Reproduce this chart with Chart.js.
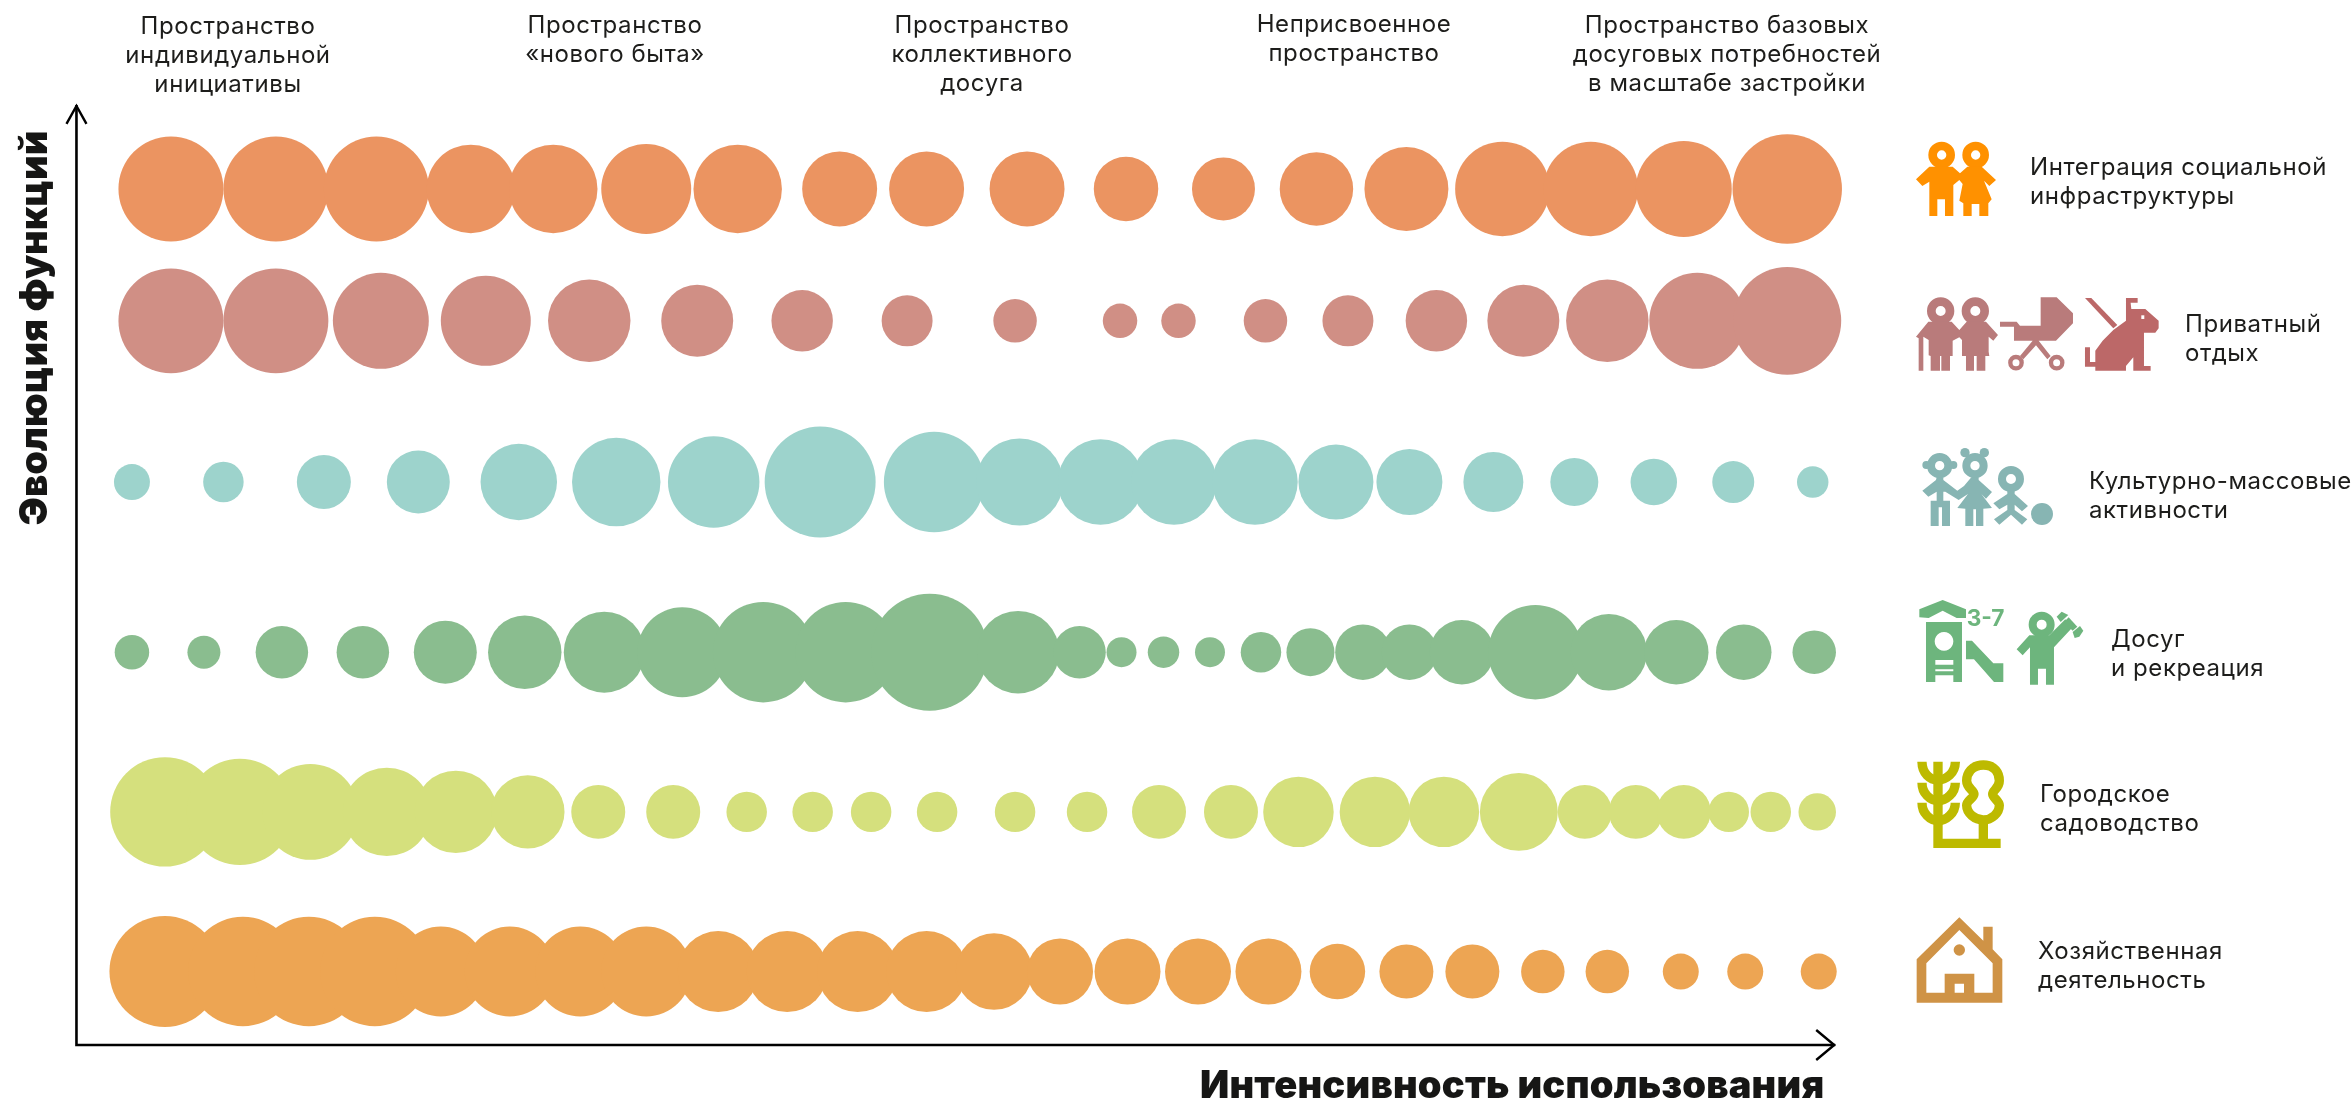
<!DOCTYPE html>
<html lang="ru">
<head>
<meta charset="utf-8">
<title>Эволюция функций</title>
<script src="https://cdn.jsdelivr.net/npm/chart.js@4"></script>
<style>
html,body{margin:0;padding:0;background:#fff;}
#wrap{position:relative;width:2351px;height:1099px;overflow:hidden;font-family:Inter,"Noto Sans",sans-serif;color:#1d1d1b;}
#chart{position:absolute;left:0;top:0;}
#icons{position:absolute;left:0;top:0;}
.t{position:absolute;white-space:nowrap;font-size:24px;letter-spacing:0.57px;line-height:29px;}
.c{text-align:center;transform:translateX(-50%);}
.ax{font-weight:900;font-size:38px;letter-spacing:0;line-height:40px;color:#161615;}
</style>
</head>
<body>
<div id="wrap">
<canvas id="chart" width="2351" height="1099"></canvas>
<svg id="icons" width="2351" height="1099" viewBox="0 0 2351 1099">
<!-- orange kids -->
<g transform="translate(1880,110) scale(0.3333)" fill="#ff9100">
<circle cx="185" cy="135" r="27" fill="none" stroke="#ff9100" stroke-width="26"/>
<circle cx="287" cy="135" r="27" fill="none" stroke="#ff9100" stroke-width="26"/>
<polygon points="108,208 148,170 218,170 240,190 262,170 305,170 348,210 328,228 312,212 335,268 325,280 325,318 298,318 298,282 275,282 275,318 250,318 250,280 238,272 248,222 238,210 220,225 220,318 195,318 195,268 172,268 172,318 148,318 148,215 127,228"/>
</g>
<!-- old couple, pram, dog -->
<g transform="translate(1880,110) scale(0.3333)" fill="#b97b7b">
<circle cx="182" cy="603" r="28" fill="none" stroke="#b97b7b" stroke-width="26"/>
<circle cx="286" cy="603" r="28" fill="none" stroke="#b97b7b" stroke-width="26"/>
<polygon points="108,680 145,635 215,635 238,660 260,635 318,635 354,675 340,692 326,680 326,725 328,738 316,738 316,782 290,782 290,738 282,738 282,782 258,782 258,738 246,738 246,690 238,682 218,692 218,738 210,738 210,782 184,782 184,738 180,738 180,782 152,782 152,738 146,736 146,690 130,680 130,782 116,782 116,685"/>
<polygon points="482,562 530,562 579,610 579,640 528,692 476,692 512,738 502,748 468,706 430,748 420,738 458,692 402,692 402,650 385,650 360,650 360,635 410,635 420,647 482,647"/>
<circle cx="408" cy="758" r="17" fill="none" stroke="#b97b7b" stroke-width="13"/>
<circle cx="530" cy="758" r="17" fill="none" stroke="#b97b7b" stroke-width="13"/>
</g>
<g transform="translate(1880,110) scale(0.3333)" fill="#bc6868">
<polygon points="615,564 634,564 712,645 700,655"/>
<polygon points="738,564 773,564 773,578 752,578 754,597 796,597 836,632 836,655 826,668 792,668 792,768 812,768 812,782 760,782 760,742 738,768 738,782 646,782 646,770 615,770 615,712 630,712 630,756 646,756 646,722 668,692 700,660 738,632"/>
<rect x="784" y="616" width="9" height="11" fill="#fff"/>
</g>
<!-- teal kids and ball -->
<g transform="translate(1880,420) scale(0.3333)" fill="#87b5b3">
<circle cx="179" cy="137" r="26" fill="none" stroke="#87b5b3" stroke-width="24"/>
<circle cx="139" cy="135" r="12"/><circle cx="220" cy="135" r="12"/>
<circle cx="285" cy="137" r="26" fill="none" stroke="#87b5b3" stroke-width="24"/>
<circle cx="255" cy="98" r="14"/><circle cx="313" cy="98" r="14"/>
<polygon points="170,172 190,172 190,180 232,212 252,198 274,172 296,172 296,180 336,216 318,236 304,222 336,264 310,266 310,318 288,318 288,268 280,268 280,318 256,318 256,266 232,264 264,222 236,240 196,215 190,215 190,242 210,242 210,318 186,318 186,262 176,262 176,318 152,318 152,242 170,242 170,215 145,230 127,212 168,180"/>
<circle cx="393" cy="177" r="27" fill="none" stroke="#87b5b3" stroke-width="24"/>
<polygon points="382,212 404,212 404,222 444,258 426,274 404,254 404,270 442,298 426,314 393,284 358,314 342,298 382,270 382,254 358,268 340,250 382,222"/>
<circle cx="486" cy="282" r="33"/>
</g>
<!-- playground and kid with hammer -->
<g transform="translate(1880,420) scale(0.3333)" fill="#6db57d">
<polygon points="118,592 118,568 150,555 188,540 228,556 258,568 258,594 230,594 188,572 146,594"/>
<path fill-rule="evenodd" d="M138,606 H246 V786 H220 V766 H166 V786 H138 Z M192,636 a28,28 0 1,0 0.1,0 Z M166,720 V734 H220 V720 Z M166,748 V754 H220 V748 Z"/>
<polygon points="258,662 276,662 340,730 370,730 370,786 342,786 282,718 258,718"/>
<text x="260" y="617" font-family="Inter" font-weight="700" font-size="68" fill="#6db57d">3-7</text>
<circle cx="485" cy="614" r="27" fill="none" stroke="#6db57d" stroke-width="24"/>
<polygon points="448,646 508,646 556,598 578,622 522,682 522,794 498,794 498,746 474,746 474,794 450,794 450,682 428,706 410,688"/>
<polygon points="530,590 545,575 565,585 542,606"/>
<polygon points="552,606 566,592 592,620 578,632"/>
<polygon points="578,636 600,618 610,632 598,650 584,654"/>
</g>
<!-- wheat and tree -->
<g transform="translate(1880,730) scale(0.3333)" fill="none" stroke="#bdba00" stroke-width="28">
<path d="M174,95 V340 H362"/>
<path d="M126,95 C126,130 150,150 174,150 C198,150 226,130 226,95"/>
<path d="M126,158 C126,190 150,212 174,212 C198,212 226,190 226,158"/>
<path d="M126,218 C126,250 150,272 174,272 C198,272 226,250 226,218"/>
<path d="M310,105 C345,105 358,130 358,152 C358,175 338,180 338,192 C338,204 358,212 358,226 C358,250 335,270 310,270 C285,270 260,250 260,226 C260,212 282,204 282,192 C282,180 260,175 260,152 C260,130 275,105 310,105 Z"/>
<path d="M310,270 V340"/>
</g>
<!-- house -->
<g transform="translate(1880,730) scale(0.3333)" fill="#cf9346">
<path fill-rule="evenodd" d="M238,562 L310,632 V590 H338 V658 L367,688 V818 H110 V688 Z M238,600 L139,700 V788 H194 V731 H283 V788 H338 V700 Z M224,761 V788 H252 V761 Z"/>
<circle cx="238" cy="660" r="17"/>
</g>
</svg>
</div>
<script>
// rows of the chart, top to bottom
const rowNames = ["Интеграция социальной инфраструктуры","Приватный отдых","Культурно-массовые активности","Досуг и рекреация","Городское садоводство","Хозяйственная деятельность"];
const rowLevels = [607,519,411.5,298,191.5,85];
const rowColors = ["#eb9461","#d08f85","#9dd3cc","#8abd8f","#d5e07d","#eda553"];

// intensity along the horizontal axis
const xs1 = [114,184,251,314,369,431,492,560,618,685,751,816,878,938,1002,1061,1123,1192];
const xs2 = [114,184,254,324,393,465,535,605,677,747,786,844,899,958,1016,1072,1132,1192];
const xs3 = [88,149,216,279,346,411,476,547,623,680,734,783,837,891,940,996,1050,1103,1156,1209];
const xs4 = [88,136,188,242,297,350,403,455,509,564,620,679,720,748,776,807,841,874,909,940,975,1024,1073,1118,1163,1210];
const xs5 = [110,160,207,258,304,352,399,449,498,542,581,625,677,725,773,821,866,917,963,1013,1057,1091,1123,1153,1181,1212];
const xs6 = [110,162,206,250,294,340,387,431,479,525,572,618,663,707,752,799,846,892,938,982,1029,1072,1121,1164,1213];

// bubble diameters
const sizes1 = [70,70,70,59,59,60,59,50,50,50,43,42,49,56,63,63,64,73];
const sizes2 = [70,70,64,60,55,48,41,34,29,23,23,29,34,41,48,55,64,72];
const sizes3 = [24,27,36,42,51,59,61,74,67,58,57,57,57,50,44,40,32,31,28,21];
const sizes4 = [23,22,35,35,42,49,54,60,67,67,78,55,35,20,21,20,27,32,37,37,43,63,51,43,37,29];
const sizes5 = [73,71,64,59,55,49,36,36,27,27,27,27,27,27,36,36,47,47,47,52,36,36,36,27,27,25];
const sizes6 = [74,73,73,73,60,60,60,60,54,54,54,54,51,44,44,44,44,37,36,36,29,29,24,24,24];

const topLabels = [
["Пространство","индивидуальной","инициативы"],
["Пространство","«нового быта»"],
["Пространство","коллективного","досуга"],
["Неприсвоенное","пространство"],
["Пространство базовых","досуговых потребностей","в масштабе застройки"]
];
const legendLabels = [
["Интеграция социальной","инфраструктуры"],
["Приватный","отдых"],
["Культурно-массовые","активности"],
["Досуг","и рекреация"],
["Городское","садоводство"],
["Хозяйственная","деятельность"]
];
const xTitle = "Интенсивность использования";
const yTitle = "Эволюция функций";

const allXs = [xs1,xs2,xs3,xs4,xs5,xs6];
const allSizes = [sizes1,sizes2,sizes3,sizes4,sizes5,sizes6];

// page px per chart unit
const unit = 2351/1568;

const datasets = rowNames.map(function(name,i){
return {
label:name,
backgroundColor:rowColors[i],
borderWidth:0,
hoverBorderWidth:0,
clip:false,
data:allXs[i].map(function(x,k){
return {x:x,y:rowLevels[i],r:allSizes[i][k]*unit/2};
})
};
});

// axis arrows
const arrowsPlugin = {
id:"arrows",
beforeDatasetsDraw(chart){
const c = chart.ctx;
const sx = chart.scales.x;
const sy = chart.scales.y;
const left = sx.getPixelForValue(51);
const right = sx.getPixelForValue(1224);
const top = sy.getPixelForValue(663);
const bottom = sy.getPixelForValue(36);
c.save();
c.strokeStyle = "#000";
c.lineWidth = 2.6;
c.beginPath();
c.moveTo(left,top);
c.lineTo(left,bottom);
c.lineTo(right,bottom);
c.stroke();
c.lineWidth = 2.4;
c.beginPath();
c.moveTo(left-10,top+19);
c.lineTo(left,top+1);
c.lineTo(left+10,top+19);
c.moveTo(right-19,bottom-15);
c.lineTo(right-1,bottom);
c.lineTo(right-19,bottom+15);
c.stroke();
c.restore();
}
};

new Chart(document.getElementById("chart"),{
type:"bubble",
data:{datasets:datasets},
plugins:[arrowsPlugin],
options:{
responsive:false,
animation:false,
layout:{padding:0,autoPadding:false},
plugins:{legend:{display:false},tooltip:{enabled:false},title:{display:false}},
scales:{
x:{type:"linear",min:0,max:1568,display:false},
y:{type:"linear",min:0,max:733,display:false}
}
}
});

// text around the chart
const wrap = document.getElementById("wrap");

function addLine(txt,x,baseline,cls){
const d = document.createElement("div");
d.className = "t "+cls;
d.textContent = txt;
d.style.left = x+"px";
d.style.top = (baseline-22)+"px";
wrap.appendChild(d);
}

const topX = [228,615,982,1354,1727];
const topBase = [33,32,32,31,32];
topLabels.forEach(function(lines,i){
lines.forEach(function(l,k){
addLine(l,topX[i],topBase[i]+k*29,"c");
});
});

const legendX = [2030,2185,2089,2111,2040,2038];
const legendBase = [174,331,488,646,801,958];
legendLabels.forEach(function(lines,i){
lines.forEach(function(l,k){
addLine(l,legendX[i],legendBase[i]+k*29,"");
});
});

const xt = document.createElement("div");
xt.className = "t ax";
xt.textContent = xTitle;
xt.style.left = "1200px";
xt.style.top = "1064px";
xt.style.letterSpacing = "0.22px";
wrap.appendChild(xt);

const yt = document.createElement("div");
yt.className = "t ax";
yt.textContent = yTitle;
yt.style.left = "33px";
yt.style.top = "328px";
yt.style.transform = "translate(-50%,-50%) rotate(-90deg)";
wrap.appendChild(yt);
</script>
</body>
</html>
